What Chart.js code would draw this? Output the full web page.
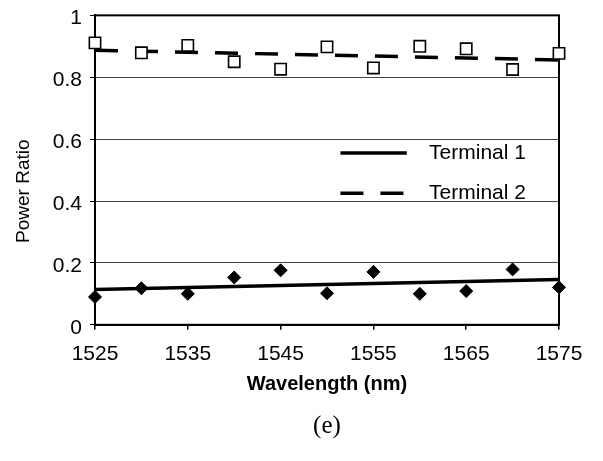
<!DOCTYPE html>
<html>
<head>
<meta charset="utf-8">
<script src="https://cdn.jsdelivr.net/npm/chart.js@4.4.1/dist/chart.umd.min.js"></script>
<style>
  html, body { margin: 0; padding: 0; background: #fff; }
  #wrap { width: 603px; height: 461px; }
</style>
</head>
<body>
<div id="wrap"><canvas id="myChart"></canvas></div>
<script>
// data
var wavelengths = [1525, 1530, 1535, 1540, 1545, 1550, 1555, 1560, 1565, 1570, 1575];
var terminal1Pts = [0.09, 0.118, 0.10, 0.153, 0.176, 0.102, 0.171, 0.10, 0.109, 0.179, 0.121];
var terminal2Pts = [0.911, 0.879, 0.903, 0.85, 0.826, 0.898, 0.83, 0.90, 0.892, 0.825, 0.877];
var trendX = [1525, 1575];
var terminal1Trend = [0.114, 0.146];
var terminal2Trend = [0.887, 0.856];
var xTicks = [1525, 1535, 1545, 1555, 1565, 1575];
var seriesNames = ['Terminal 1', 'Terminal 2'];

function toXY(xs, ys) {
    var out = [];
    for (var i = 0; i < xs.length; i++) {
        out.push({x: xs[i], y: ys[i]});
    }
    return out;
}

//рамка вокруг области графика
var framePlugin = {
    id: 'frame',
    beforeDatasetsDraw: function(chart) {
        var a = chart.chartArea;
        var ctx = chart.ctx;
        ctx.save();
        ctx.strokeStyle = '#000';
        ctx.lineWidth = 2;
        ctx.strokeRect(a.left, a.top, a.right - a.left, a.bottom - a.top);
        ctx.restore();
    }
};

//легенда только из линий тренда, внутри графика
var lineLegend = {
    id: 'lineLegend',
    afterDatasetsDraw: function(chart) {
        var a = chart.chartArea;
        var w = a.right - a.left, h = a.bottom - a.top;
        var ctx = chart.ctx;
        var rows = [0.445, 0.575];
        var trends = chart.data.datasets.filter(function(d) { return d.legendRow !== undefined; });
        ctx.save();
        trends.forEach(function(d) {
            var y = a.top + h * rows[d.legendRow];
            ctx.beginPath();
            ctx.strokeStyle = d.borderColor;
            ctx.lineWidth = d.borderWidth;
            ctx.setLineDash(d.borderDash || []);
            ctx.lineDashOffset = 0;
            ctx.moveTo(a.left + w * 0.529, y);
            ctx.lineTo(a.left + w * 0.672, y);
            ctx.stroke();
            ctx.setLineDash([]);
            ctx.fillStyle = '#000';
            ctx.font = '21px "Liberation Sans", Arial, sans-serif';
            ctx.textBaseline = 'middle';
            ctx.textAlign = 'left';
            ctx.fillText(d.label, a.left + w * 0.72, y);
        });
        ctx.restore();
    }
};

var ctx = document.getElementById('myChart').getContext('2d');
var myChart = new Chart(ctx, {
    type: 'scatter',
    data: {
        datasets: [
            {
                label: seriesNames[0] + ' data',
                data: toXY(wavelengths, terminal1Pts),
                pointStyle: 'rectRot',
                pointRadius: 6.5,
                backgroundColor: '#000',
                borderColor: '#000',
                borderWidth: 1,
                clip: false
            },
            {
                label: seriesNames[1] + ' data',
                data: toXY(wavelengths, terminal2Pts),
                pointStyle: 'rect',
                pointRadius: 8,
                backgroundColor: '#fff',
                borderColor: '#000',
                borderWidth: 1.6,
                clip: false
            },
            {
                label: seriesNames[0],
                legendRow: 0,
                type: 'line',
                data: toXY(trendX, terminal1Trend),
                borderColor: '#000',
                borderWidth: 3.5,
                pointRadius: 0,
                fill: false,
                order: 5
            },
            {
                label: seriesNames[1],
                legendRow: 1,
                type: 'line',
                data: toXY(trendX, terminal2Trend),
                borderColor: '#000',
                borderWidth: 3.5,
                borderDash: [23, 17],
                pointRadius: 0,
                fill: false,
                order: 5
            }
        ]
    },
    options: {
        responsive: true,
        maintainAspectRatio: false,
        animation: false,
        layout: {
            padding: {left: 12, right: 44, top: 4, bottom: 20}
        },
        plugins: {
            legend: {display: false},
            tooltip: {enabled: false},
            title: {
                display: true,
                text: '(e)',
                position: 'bottom',
                fullSize: false,
                color: '#000',
                font: {family: '"Liberation Serif", "Times New Roman", serif', size: 25, weight: 'normal'},
                padding: {top: 15, bottom: 0}
            }
        },
        scales: {
            x: {
                type: 'linear',
                min: 1525,
                max: 1575,
                afterBuildTicks: function(scale) {
                    scale.ticks = xTicks.map(function(v) { return {value: v}; });
                },
                grid: {drawOnChartArea: false, drawTicks: true, tickLength: 5, color: '#000', lineWidth: 1.5},
                border: {display: true, color: '#000', width: 2},
                ticks: {
                    color: '#000',
                    padding: 12,
                    maxRotation: 0,
                    font: {family: '"Liberation Sans", Arial, sans-serif', size: 21},
                    callback: function(v) { return String(v); }
                },
                title: {
                    display: true,
                    text: 'Wavelength (nm)',
                    color: '#000',
                    font: {family: '"Liberation Sans", Arial, sans-serif', size: 20, weight: 'bold'},
                    padding: {top: -7, bottom: 0}
                }
            },
            y: {
                min: 0,
                max: 1,
                ticks: {
                    stepSize: 0.2,
                    color: '#000',
                    padding: 8,
                    labelOffset: 3,
                    font: {family: '"Liberation Sans", Arial, sans-serif', size: 21, lineHeight: 0.7},
                    callback: function(v) { return Math.round(v * 10) / 10; }
                },
                grid: {
                    color: function(c) {
                        return (c.tick && (c.tick.value === 0 || c.tick.value === 1)) ? 'rgba(0,0,0,0)' : '#444';
                    },
                    lineWidth: 1,
                    tickLength: 5,
                    tickColor: '#000'
                },
                border: {display: true, color: '#000', width: 2},
                title: {
                    display: true,
                    text: 'Power Ratio' + '        ',
                    color: '#000',
                    font: {family: '"Liberation Sans", Arial, sans-serif', size: 19},
                    padding: {top: 0, bottom: 10}
                }
            }
        }
    },
    plugins: [framePlugin, lineLegend]
});
</script>
</body>
</html>
